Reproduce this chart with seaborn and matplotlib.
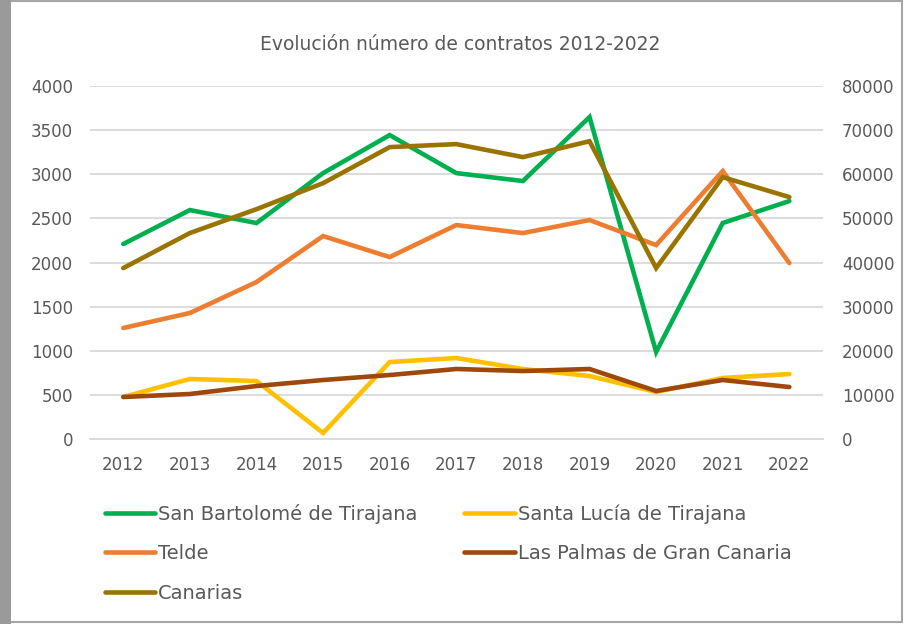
import numpy as np
import pandas as pd
import seaborn as sns
import matplotlib.pyplot as plt
from matplotlib.patches import Rectangle
from matplotlib.lines import Line2D

# datos
anios = [2012, 2013, 2014, 2015, 2016, 2017, 2018, 2019, 2020, 2021, 2022]
san_bartolome = [2210, 2595, 2448, 3014, 3445, 3014, 2924, 3649, 986, 2448, 2697]
santa_lucia = [476, 680, 657, 68, 872, 918, 793, 714, 533, 691, 736]
telde = [1258, 1428, 1779, 2300, 2062, 2425, 2334, 2482, 2198, 3037, 1994]
# eje secundario
las_palmas = [9520, 10200, 12000, 13370, 14500, 15870, 15400, 15870, 10880, 13370, 11780]
canarias = [38750, 46690, 52100, 58000, 66170, 66850, 63900, 67500, 38750, 59360, 54840]

sns.set_style('white')
plt.rcParams['font.family'] = ['DejaVu Sans']

gris = '#595959'
rejilla = '#d9d9d9'

fig = plt.figure(figsize=(9.06, 6.24), dpi=100)
ax = fig.add_axes([0.0993, 0.2965, 0.8087, 0.5655])
ax2 = ax.twinx()

df1 = pd.DataFrame({'anio': anios, 'San Bartolomé de Tirajana': san_bartolome,
                    'Santa Lucía de Tirajana': santa_lucia, 'Telde': telde})
df2 = pd.DataFrame({'anio': anios, 'Las Palmas de Gran Canaria': las_palmas,
                    'Canarias': canarias})

colores = {'San Bartolomé de Tirajana': '#00B050',
           'Santa Lucía de Tirajana': '#FFC000',
           'Telde': '#ED7D31',
           'Las Palmas de Gran Canaria': '#9E480E',
           'Canarias': '#9A7400'}
lw = 3.3

for col in ['San Bartolomé de Tirajana', 'Santa Lucía de Tirajana', 'Telde']:
    sns.lineplot(data=df1, x='anio', y=col, ax=ax, color=colores[col], linewidth=lw,
                 solid_capstyle='round', solid_joinstyle='miter')
for col in ['Las Palmas de Gran Canaria', 'Canarias']:
    sns.lineplot(data=df2, x='anio', y=col, ax=ax2, color=colores[col], linewidth=lw,
                 solid_capstyle='round', solid_joinstyle='miter')

ax.set_xlim(2011.5, 2022.5)
ax.set_ylim(0, 4000)
ax2.set_ylim(0, 80000)
ax.set_yticks(np.arange(0, 4001, 500))
ax2.set_yticks(np.arange(0, 80001, 10000))
ax.set_xticks(anios)
ax.set_xticks(np.arange(2011.5, 2023, 1), minor=True)
ax.set_xlabel('')
ax.set_ylabel('')
ax2.set_ylabel('')

ax.grid(axis='y', color=rejilla, linewidth=1.3)
ax.set_axisbelow(True)
for a in (ax, ax2):
    for s in a.spines.values():
        s.set_visible(False)
ax.spines['bottom'].set_visible(True)
ax.spines['bottom'].set_color(rejilla)
ax.spines['bottom'].set_linewidth(1.3)

ax.tick_params(axis='x', which='major', length=0, pad=12, labelsize=12, labelcolor=gris)
ax.tick_params(axis='x', which='minor', length=6, width=1.3, color=rejilla, direction='out')
ax.tick_params(axis='y', length=0, pad=12, labelsize=12, labelcolor=gris)
ax2.tick_params(axis='y', length=0, pad=14, labelsize=12, labelcolor=gris)

fig.text(0.508, 0.928, 'Evolución número de contratos 2012-2022', ha='center', va='center',
         fontsize=13.5, color=gris)

# orden por columnas para que la leyenda se lea por filas
orden = ['San Bartolomé de Tirajana', 'Telde', 'Canarias',
         'Santa Lucía de Tirajana', 'Las Palmas de Gran Canaria']
handles = [Line2D([0], [0], color=colores[n], linewidth=lw, solid_capstyle='round') for n in orden]
leg = fig.legend(handles, orden, loc='upper left', bbox_to_anchor=(0.107, 0.205), ncol=2,
                 frameon=False, fontsize=14, handlelength=2.6, handletextpad=0.15,
                 columnspacing=2.4, labelspacing=1.05, borderaxespad=0)
for t in leg.get_texts():
    t.set_color(gris)

# marco del grafico
fig.patches.append(Rectangle((0.003, 0.004), 0.993, 0.994, transform=fig.transFigure,
                             fill=False, edgecolor='#a6a6a6', linewidth=1.5))
fig.patches.append(Rectangle((0.0, 0.0), 0.012, 1.0, transform=fig.transFigure,
                             facecolor='#9a9a9a', edgecolor='none'))

fig.savefig('out.png', dpi=100)
